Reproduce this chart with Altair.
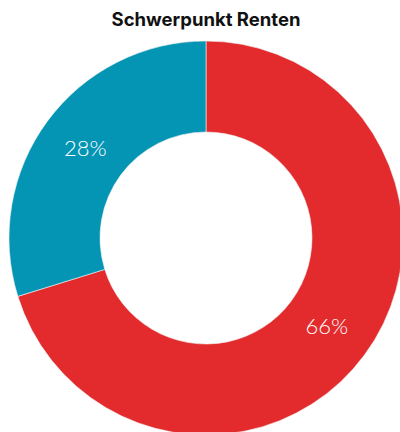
import altair as alt
import pandas as pd

categories = ["Renten", "Sonstige"]
values = [66, 28]
labels = ["66%", "28%"]
colors = ["#E32B2E", "#0495B4"]
order = [0, 1]

df = pd.DataFrame({"cat": categories, "value": values, "label": labels, "order": order})

cx, cy = 206, 238

base = alt.Chart(df).encode(
    theta=alt.Theta("value:Q", stack=True),
    order=alt.Order("order:Q"),
    x=alt.value(cx),
    y=alt.value(cy),
)

arcs = base.mark_arc(outerRadius=197, innerRadius=106, stroke="#f2f2f2", strokeWidth=0.6).encode(
    color=alt.Color("cat:N", scale=alt.Scale(domain=categories, range=colors), legend=None)
)

text = base.mark_text(radius=150, font="Lato", fontSize=22, fontWeight=300, color="white").encode(
    text="label:N"
)

title = alt.Chart(pd.DataFrame({"t": ["Schwerpunkt Renten"]})).mark_text(
    font="Inter", fontSize=18.5, fontWeight="bold", color="#111111", baseline="middle"
).encode(text="t:N", x=alt.value(206), y=alt.value(20))

chart = alt.layer(arcs, text, title).properties(
    width=400, height=432, padding=0, autosize=alt.AutoSizeParams(type="none")
).configure_view(stroke=None)

chart.save("out.html", embed_options={"renderer": "svg", "actions": False})
